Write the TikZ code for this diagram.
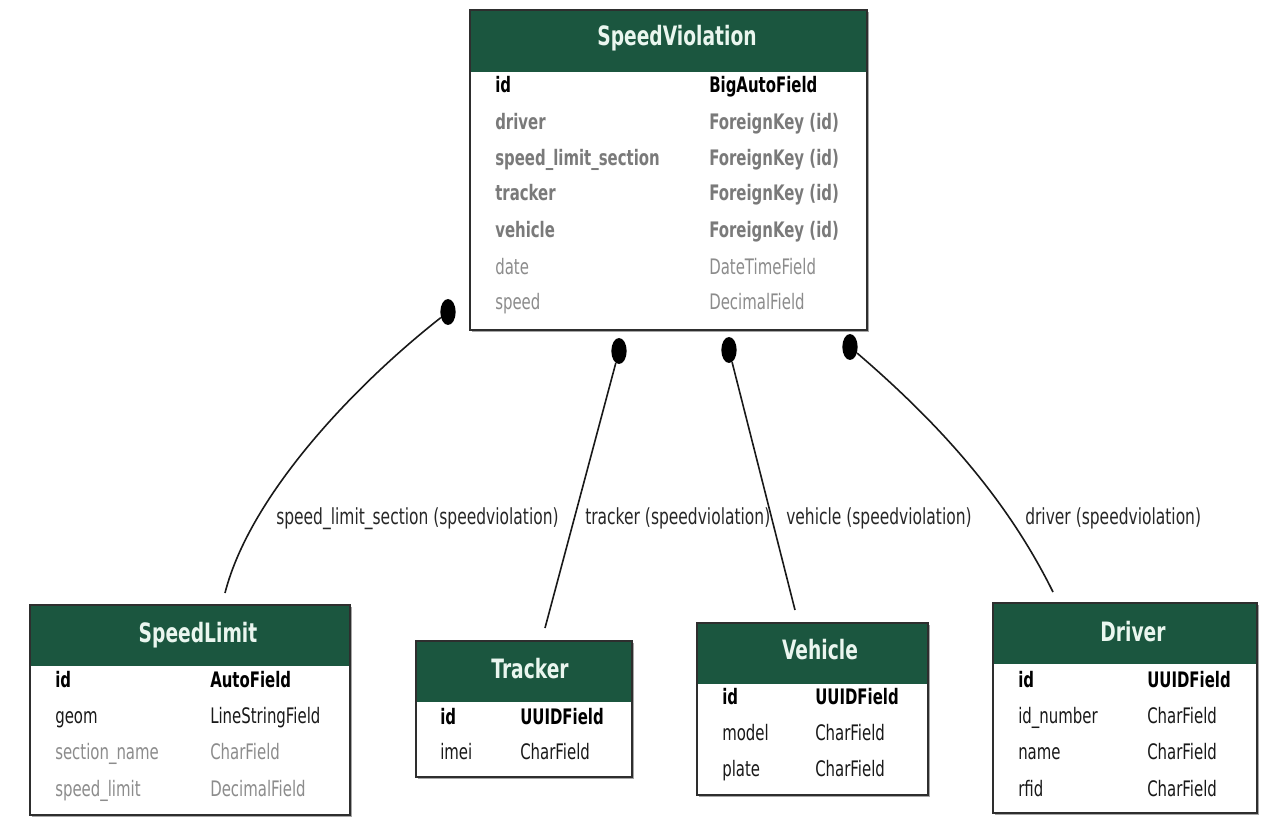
\documentclass[tikz,border=0pt]{standalone}
\usepackage{fontspec}
\setmainfont{DejaVu Sans}[FakeStretch=0.7]
\usetikzlibrary{fit,shapes.geometric}

\definecolor{hdrgreen}{HTML}{1B563F}
\definecolor{hdrtext}{HTML}{EAF6EF}
\definecolor{fkgray}{HTML}{7A7A7A}
\definecolor{optgray}{HTML}{8C8C8C}
\definecolor{frame}{HTML}{2E2E2E}

\tikzset{
  tbl/.style={draw=frame, line width=1.5pt, inner sep=0pt},
  tblshadow/.style={fill=black!35},
  hdr/.style={fill=hdrgreen},
  title/.style={text=hdrtext, font=\fontsize{20}{22}\selectfont\bfseries, inner sep=0pt,
    text height=14.5pt, text depth=4pt},
  cell/.style={anchor=west, inner sep=0pt, text height=12pt, text depth=3.5pt, yshift=-1.5pt},
  pk/.style={cell, text=black, font=\fontsize{16}{18}\selectfont\bfseries},
  fk/.style={cell, text=fkgray, font=\fontsize{16}{18}\selectfont\bfseries},
  opt/.style={cell, text=optgray, font=\fontsize{16}{18}\selectfont},
  plain/.style={cell, text=black!90, font=\fontsize{16}{18}\selectfont},
  lbl/.style={cell, text=black!85, font=\fontsize{16.6}{18}\selectfont},
  dot/.style={ellipse, fill=black, inner sep=0pt, minimum width=11.5pt, minimum height=19.5pt},
  rel/.style={draw=black!90, line width=1.2pt},
}

\begin{document}
\begin{tikzpicture}[x=0.75pt, y=-0.75pt]
\useasboundingbox (0,0) rectangle (1275,834);

% ---------- SpeedViolation ----------
\fill[tblshadow] (472,12) rectangle (869,332);
\fill[white] (470,10) rectangle (867,330);
\fill[hdr] (470,10) rectangle (867,72);
\node[tbl, fit={(470,10) (867,330)}] (sv) {};
\node[title] (svt) at (677,39) {SpeedViolation};
\node[pk]  (sv1l) at (495,85)  {id};
\node[pk]  (sv1r) at (709,85)  {BigAutoField};
\node[fk]  (sv2l) at (495,122) {driver};
\node[fk]  (sv2r) at (709,122) {ForeignKey (id)};
\node[fk]  (sv3l) at (495,158) {speed\_limit\_section};
\node[fk]  (sv3r) at (709,158) {ForeignKey (id)};
\node[fk]  (sv4l) at (495,193) {tracker};
\node[fk]  (sv4r) at (709,193) {ForeignKey (id)};
\node[fk]  (sv5l) at (495,230) {vehicle};
\node[fk]  (sv5r) at (709,230) {ForeignKey (id)};
\node[opt] (sv6l) at (495,267) {date};
\node[opt] (sv6r) at (709,267) {DateTimeField};
\node[opt] (sv7l) at (495,302) {speed};
\node[opt] (sv7r) at (709,302) {DecimalField};

% ---------- SpeedLimit ----------
\fill[tblshadow] (32,607) rectangle (352,817);
\fill[white] (30,605) rectangle (350,815);
\fill[hdr] (30,605) rectangle (350,666);
\node[tbl, fit={(30,605) (350,815)}] (sl) {};
\node[title] (slt) at (198,635) {SpeedLimit};
\node[pk]    (sl1l) at (55,680)  {id};
\node[pk]    (sl1r) at (210,680) {AutoField};
\node[plain] (sl2l) at (55,716)  {geom};
\node[plain] (sl2r) at (210,716) {LineStringField};
\node[opt]   (sl3l) at (55,752)  {section\_name};
\node[opt]   (sl3r) at (210,752) {CharField};
\node[opt]   (sl4l) at (55,789)  {speed\_limit};
\node[opt]   (sl4r) at (210,789) {DecimalField};

% ---------- Tracker ----------
\fill[tblshadow] (418,643) rectangle (634,779);
\fill[white] (416,641) rectangle (632,777);
\fill[hdr] (416,641) rectangle (632,702);
\node[tbl, fit={(416,641) (632,777)}] (tr) {};
\node[title] (trt) at (530,671) {Tracker};
\node[pk]    (tr1l) at (440,717) {id};
\node[pk]    (tr1r) at (520,717) {UUIDField};
\node[plain] (tr2l) at (440,752) {imei};
\node[plain] (tr2r) at (520,752) {CharField};

% ---------- Vehicle ----------
\fill[tblshadow] (699,625) rectangle (930,797);
\fill[white] (697,623) rectangle (928,795);
\fill[hdr] (697,623) rectangle (928,684);
\node[tbl, fit={(697,623) (928,795)}] (ve) {};
\node[title] (vet) at (820,652) {Vehicle};
\node[pk]    (ve1l) at (722,697) {id};
\node[pk]    (ve1r) at (815,697) {UUIDField};
\node[plain] (ve2l) at (722,733) {model};
\node[plain] (ve2r) at (815,733) {CharField};
\node[plain] (ve3l) at (722,769) {plate};
\node[plain] (ve3r) at (815,769) {CharField};

% ---------- Driver ----------
\fill[tblshadow] (995,605) rectangle (1259,815);
\fill[white] (993,603) rectangle (1257,813);
\fill[hdr] (993,603) rectangle (1257,664);
\node[tbl, fit={(993,603) (1257,813)}] (dr) {};
\node[title] (drt) at (1133,634) {Driver};
\node[pk]    (dr1l) at (1018,680) {id};
\node[pk]    (dr1r) at (1147,680) {UUIDField};
\node[plain] (dr2l) at (1018,716) {id\_number};
\node[plain] (dr2r) at (1147,716) {CharField};
\node[plain] (dr3l) at (1018,752) {name};
\node[plain] (dr3r) at (1147,752) {CharField};
\node[plain] (dr4l) at (1018,789) {rfid};
\node[plain] (dr4r) at (1147,789) {CharField};

% ---------- relation ends ----------
\node[dot] (d1) at (448,312) {};
\node[dot] (d2) at (619,351) {};
\node[dot] (d3) at (729,350) {};
\node[dot] (d4) at (850,347) {};

\coordinate (e1) at (225,593);
\coordinate (e2) at (545,628);
\coordinate (e3) at (795,610);
\coordinate (e4) at (1053,592);

\draw[rel] (d1) .. controls (355,385) and (250,495) .. (e1);
\draw[rel] (d2) -- (e2);
\draw[rel] (d3) -- (e3);
\draw[rel] (d4) .. controls (935,420) and (1005,495) .. (e4);

\node[lbl] (l1) at (276,517) {speed\_limit\_section (speedviolation)};
\node[lbl] (l2) at (585,517) {tracker (speedviolation)};
\node[lbl] (l3) at (786,517) {vehicle (speedviolation)};
\node[lbl] (l4) at (1025,517) {driver (speedviolation)};
\end{tikzpicture}
\end{document}
